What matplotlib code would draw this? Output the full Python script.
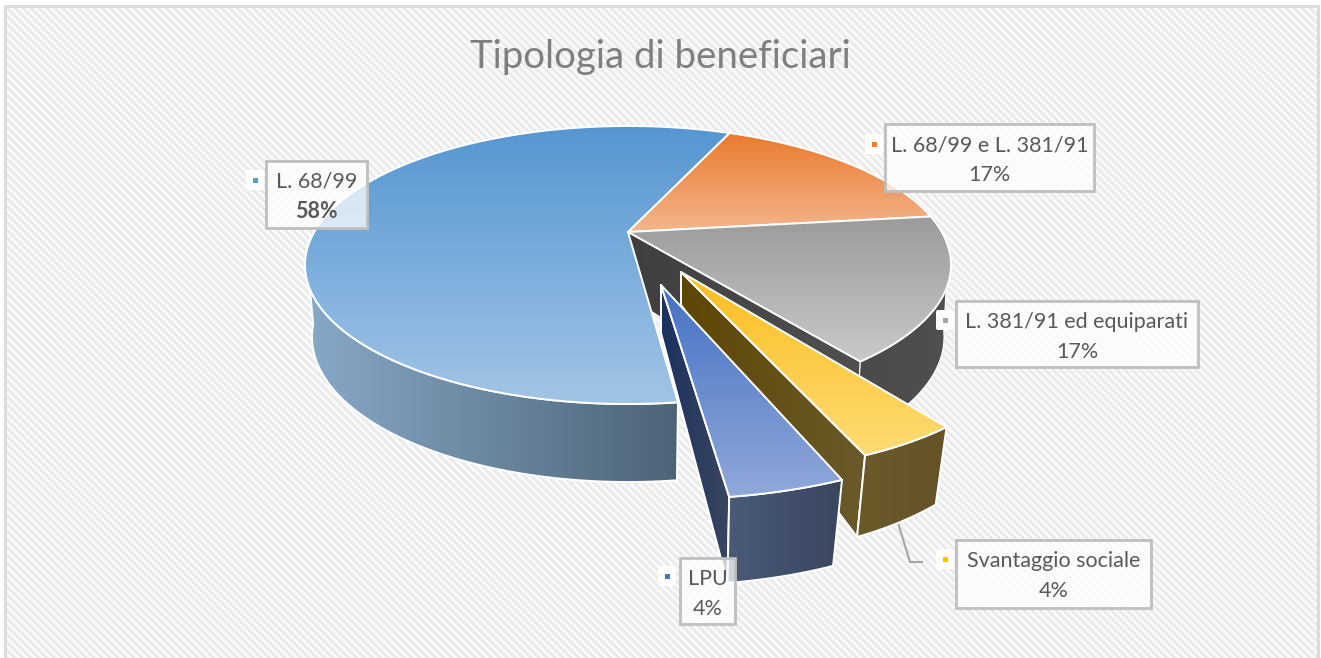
import numpy as np
import matplotlib
matplotlib.use('Agg')
import matplotlib.pyplot as plt
from matplotlib.colors import LinearSegmentedColormap
from matplotlib.patches import Polygon, Rectangle, FancyBboxPatch

plt.rcParams['font.family'] = ['Lato', 'DejaVu Sans']

title = 'Tipologia di beneficiari'
categories = ['L. 68/99', 'L. 68/99 e L. 381/91', 'L. 381/91 ed equiparati', 'Svantaggio sociale', 'LPU']
shares = [58.4, 16.6, 16.7, 4.3, 4.0]
key_colors = ['#5b9bd5', '#ed7d31', '#a5a5a5', '#ffc000', '#4472c4']

# top face colours (back -> front), all in pixels of the original picture from here on
top_colors = [('#5596d2', '#a2c5e6'), ('#ea7a2e', '#f4b58c'), ('#9b9b9b', '#c9c9c9'),
              ('#fdbd1e', '#fcdc74'), ('#4571c3', '#90a9da')]
side_colors = [('#87a8c7', '#4d6376'), None, ('#4a4a4a', '#4f4f4f'),
               ('#6a5a2a', '#655325'), ('#4a5a78', '#39465f')]
wall_colors = [None, None, ('#3f3f3f', '#505050'), ('#5e4703', '#6a5a2c'), ('#1c315f', '#39465f')]

W, H = 1321, 658
apex = (628, 232)
top_ell = (628, 265, 323, 139)
bot_ell = (628, 337, 316, 145)
# exploded slices: apex, apex bottom, top rim ellipse, bottom rim ellipse
exploded = {
    3: ((681, 272), (681, 305), (725, 327, 308, 144), (722, 390, 297, 165)),
    4: ((661, 285), (661, 333), (671, 324, 376, 175), (673, 410, 352, 175)),
}
persp = 0.237  # how far the pie centre sits above the ellipse centre
start_deg = 173


def warp(phi_deg):
    phi = np.radians(phi_deg)
    den = 1 + persp * np.cos(phi)
    c = (np.cos(phi) + persp) / den
    s = np.sin(phi) * np.sqrt(1 - persp ** 2) / den
    return np.unwrap(np.arctan2(s, c))


def rim(ell, t):
    return np.column_stack([ell[0] + ell[2] * np.sin(t), ell[1] - ell[3] * np.cos(t)])


def grad_fill(ax, pts, c0, c1, horizontal=False, z=1, lw=1.4):
    pts = np.asarray(pts)
    cmap = LinearSegmentedColormap.from_list('g', [c0, c1])
    ramp = np.linspace(0, 1, 256)
    arr = ramp[None, :] if horizontal else ramp[:, None]
    ext = (pts[:, 0].min(), pts[:, 0].max(), pts[:, 1].max(), pts[:, 1].min())
    im = ax.imshow(arr, cmap=cmap, extent=ext, aspect='auto', origin='upper', zorder=z)
    poly = Polygon(pts, closed=True, fc='none', ec='white', lw=lw, joinstyle='round', zorder=z + 0.1)
    ax.add_patch(poly)
    im.set_clip_path(poly)


fig = plt.figure(figsize=(W / 100, H / 100), dpi=100, facecolor='white')
ax = fig.add_axes([0, 0, 1, 1])
ax.axis('off')

# striped background, border on top and both sides only
xx, yy = np.meshgrid(np.arange(W), np.arange(H))
stripes = 0.5 + 0.5 * np.cos(2 * np.pi * (xx - yy) / 8)
bg = LinearSegmentedColormap.from_list('bg', ['#fdfdfd', '#e8e8e8'])
ax.imshow(stripes, cmap=bg, extent=(5, 1317, 658, 6), aspect='auto', zorder=0)
ax.plot([4.5, 4.5, 1317.5, 1317.5], [658, 6, 6, 658], color='#dcdcdc', lw=2.2, zorder=0.5)

# slice angles from the shares, clockwise from the front of the pie
edges = start_deg + np.cumsum([0] + shares) / sum(shares) * 360
ts = [warp(np.linspace(edges[i], edges[i + 1], 120)) for i in range(len(shares))]

# back part: blue side, grey wall and side
t = np.radians(np.linspace(np.degrees(ts[0][0]), 260, 80))
tb = np.radians(np.linspace(275, np.degrees(ts[0][0]), 80))
grad_fill(ax, np.vstack([rim(top_ell, t), rim(bot_ell, tb)]), *side_colors[0], horizontal=True, z=1)

t_g = ts[2][-1]
wall = [apex, rim(top_ell, np.array([t_g]))[0], rim(bot_ell, np.array([t_g]))[0], (628, 297)]
grad_fill(ax, wall, *wall_colors[2], horizontal=True, z=1.2, lw=0.8)
t = np.radians(np.linspace(100, np.degrees(t_g), 40))
tb = np.radians(np.linspace(np.degrees(t_g), 88, 40))
grad_fill(ax, np.vstack([rim(top_ell, t), rim(bot_ell, tb)]), *side_colors[2], horizontal=True, z=1.3, lw=0.8)

# top faces of the three slices that stay in place
for i in [0, 1, 2]:
    pts = np.vstack([[apex], rim(top_ell, ts[i])])
    grad_fill(ax, pts, *top_colors[i], z=2 + i * 0.2)

# exploded slices
for i, z in [(3, 3), (4, 4)]:
    a_top, a_bot, e_top, e_bot = exploded[i]
    r_top = rim(e_top, ts[i])
    r_bot = rim(e_bot, ts[i])
    grad_fill(ax, [a_top, r_top[-1], r_bot[-1], a_bot], *wall_colors[i], horizontal=True, z=z)
    grad_fill(ax, np.vstack([r_top, r_bot[::-1]]), *side_colors[i], horizontal=True, z=z + 0.2)
    grad_fill(ax, np.vstack([[a_top], r_top]), *top_colors[i], z=z + 0.4)

# leader line
ax.plot([898, 910, 922], [523, 562, 562], color='#a6a6a6', lw=1.5, zorder=1.5)

# data labels
boxes = [(266, 161, 367, 228), (885, 124, 1094, 191), (956, 301, 1198, 367),
         (956, 540, 1151, 608), (680, 558, 735, 624)]
keys = [(255, 180), (874, 144), (945, 320), (945, 559), (667, 576)]
for i, (x0, y0, x1, y1) in enumerate(boxes):
    ax.add_patch(Rectangle((x0, y0), x1 - x0, y1 - y0, fc='white', alpha=0.75, ec='none', zorder=5))
    ax.add_patch(Rectangle((x0, y0), x1 - x0, y1 - y0, fc='none', ec='#bfbfbf', lw=2, zorder=5.1))
    kx, ky = keys[i]
    ax.add_patch(FancyBboxPatch((kx - 7, ky - 8), 14, 16, boxstyle='round,pad=2', fc='white', ec='none', zorder=5))
    ax.add_patch(Rectangle((kx - 2.5, ky - 2.5), 5, 5, fc=key_colors[i], ec='none', zorder=5.2))
    cx = (x0 + x1) / 2
    ax.text(cx, y0 + 21, categories[i], ha='center', va='center', fontsize=15.5, color='#595959', zorder=6)
    ax.text(cx, y0 + 51, f'{round(shares[i])}%', ha='center', va='center', fontsize=15.5, color='#595959',
            fontweight='bold' if i == 0 else 'normal', zorder=6)

ax.text(660, 57, title, ha='center', va='center', fontsize=27.6, color='#7f7f7f', zorder=6)

ax.set_xlim(0, W)
ax.set_ylim(H, 0)
fig.savefig('out.png', dpi=100, facecolor='white')
